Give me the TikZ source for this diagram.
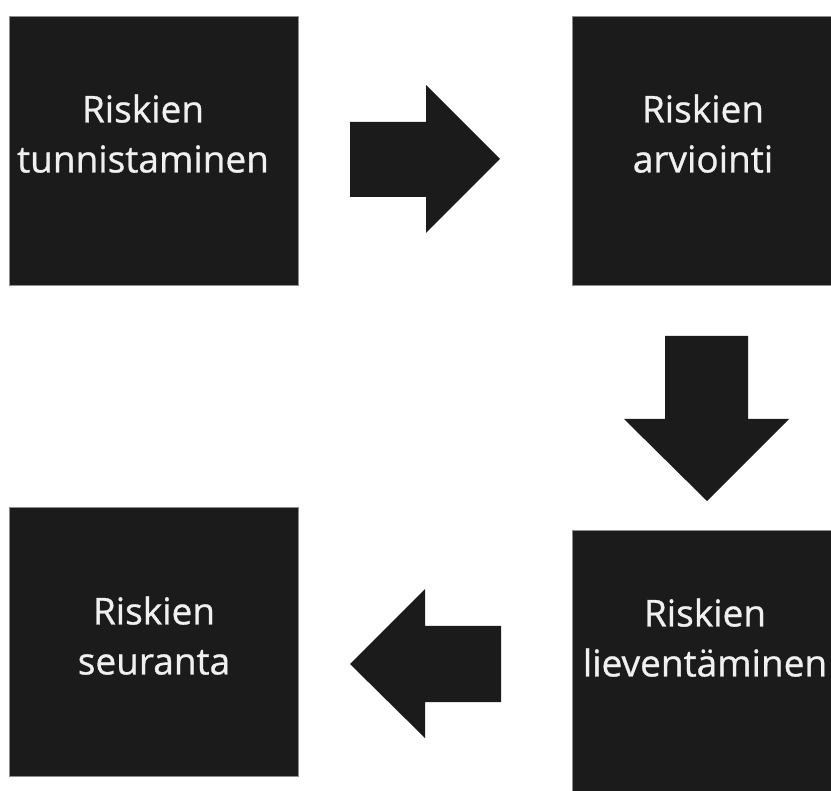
\documentclass[tikz,border=0pt]{standalone}
\usepackage{fontspec}
\setmainfont{Open Sans}
\newfontfamily\lblfont[FakeBold=0.8]{Open Sans}
\definecolor{boxfill}{HTML}{1B1B1B}
\definecolor{boxline}{HTML}{8C8C8C}
\definecolor{txt}{HTML}{F0F0F0}
\begin{document}
\begin{tikzpicture}[x=1pt,y=-1pt,
  stepbox/.style={draw=boxline,line width=0.8pt,fill=boxfill,minimum width=289pt,minimum height=269pt,inner sep=0pt,anchor=north west},
  lbl/.style={text=txt,font=\lblfont\fontsize{37}{50}\selectfont,align=center,inner sep=0pt,anchor=south},
  blockarrow/.style={fill=boxfill}]
\useasboundingbox (0,0) rectangle (831,791);
\begin{scope}
\clip (0,0) rectangle (831,791);
\node[stepbox] (tl) at (9,16) {};
\node[stepbox] (tr) at (572,16) {};
\node[stepbox] (bl) at (9,507) {};
\node[stepbox] (br) at (572,530) {};
\node[lbl] (tltext) at (143,173) {Riskien\\tunnistaminen};
\node[lbl] (trtext) at (703,173) {Riskien\\arviointi};
\node[lbl] (bltext) at (154,675) {Riskien\\seuranta};
\node[lbl] (brtext) at (705,677) {Riskien\\lieventäminen};
% right arrow
\fill[blockarrow] (350,122) -- (426,122) -- (426,85) -- (500,159) -- (426,233) -- (426,197) -- (350,197) -- cycle;
% down arrow
\fill[blockarrow] (665,336) -- (748,336) -- (748,419) -- (789,419) -- (707,501) -- (624,419) -- (665,419) -- cycle;
% left arrow
\fill[blockarrow] (501,626) -- (425,626) -- (425,589) -- (350,664) -- (425,738) -- (425,702) -- (501,702) -- cycle;
\end{scope}
\end{tikzpicture}
\end{document}
